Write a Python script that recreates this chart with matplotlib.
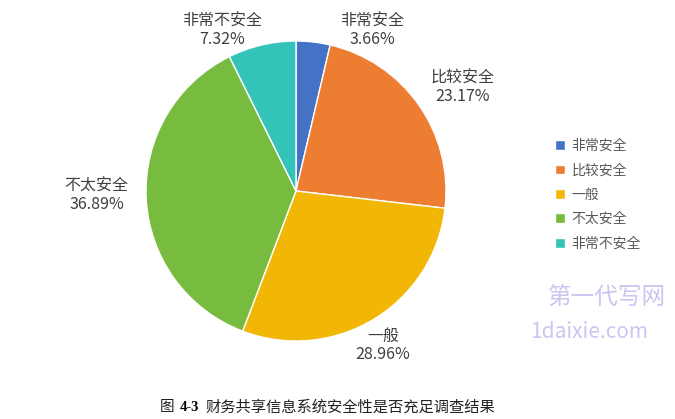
import matplotlib.pyplot as plt

plt.rcParams['font.family'] = ['Noto Sans CJK SC', 'DejaVu Sans']

# -----------------------------
# data
# -----------------------------
categories = ["非常安全", "比较安全", "一般", "不太安全", "非常不安全"]
shares = [3.66, 23.17, 28.96, 36.89, 7.32]
colors = ["#4472C4", "#ED7D31", "#F2B705", "#77BC3F", "#33C3B8"]
caption = "财务共享信息系统安全性是否充足调查结果"

# label anchor points, in units of the pie radius (layout only)
label_pos = [(0.51, 1.07), (1.11, 0.69), (0.58, -1.03), (-1.33, -0.03), (-0.49, 1.07)]

fig = plt.figure(figsize=(6.75, 4.19), dpi=100)
# pie: centre ~ (296,191) px, radius ~150 px
ax = fig.add_axes([(296 - 150) / 675, (419 - 191 - 150) / 419, 300 / 675, 300 / 419])

wedges, _ = ax.pie(shares, colors=colors, startangle=90, counterclock=False,
                   radius=1.0, wedgeprops=dict(edgecolor="white", linewidth=1.0))
ax.set_xlim(-1, 1)
ax.set_ylim(-1, 1)
ax.set_aspect("equal")
ax.axis("off")

for name, val, (lx, ly) in zip(categories, shares, label_pos):
    ax.text(lx, ly, f"{name}\n{val:.2f}%", ha="center", va="center",
            fontsize=11.5, color="#404040", linespacing=1.05, clip_on=False)

leg = fig.legend(wedges, categories, loc="upper left",
                 bbox_to_anchor=(548 / 675, 1 - 132 / 419), frameon=False,
                 fontsize=10, handlelength=0.7, handleheight=0.7,
                 handletextpad=0.5, labelspacing=0.75, borderpad=0)
for t in leg.get_texts():
    t.set_color("#595959")

# faint site watermark
fig.text(548 / 675, 1 - 297 / 419, "第一代写网", fontsize=17, color="#C9C6F2",
         ha="left", va="center")
fig.text(530 / 675, 1 - 332 / 419, "1daixie.com", fontsize=15, color="#C9C6F2",
         ha="left", va="center")

# figure caption
fig.text(160 / 675, 1 - 407 / 419, "图", fontsize=10.5, fontweight="light",
         color="#222222", ha="left", va="center")
fig.text(180 / 675, 1 - 407 / 419, "4-3", fontsize=10.5, fontweight="bold",
         family=["Liberation Serif", "DejaVu Serif"], ha="left", va="center")
fig.text(205 / 675, 1 - 407 / 419, caption, fontsize=11, fontweight="light",
         color="#222222", ha="left", va="center")

fig.savefig("out.png", dpi=100)
